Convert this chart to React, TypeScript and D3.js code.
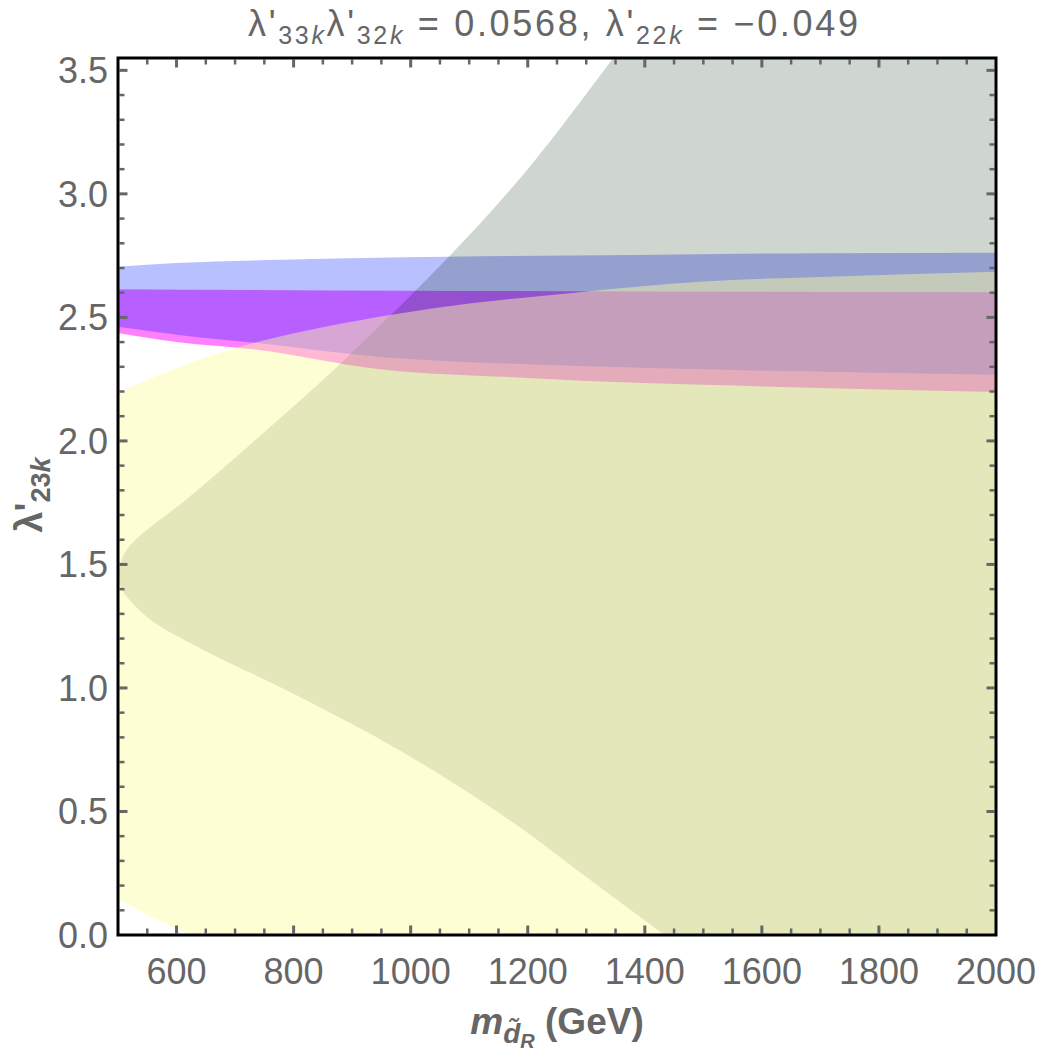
import React from "react";
import * as d3 from "d3";

const xDomain: [number, number] = [500, 2000];
const yDomain: [number, number] = [0, 3.55];
const xTickValues = [600, 800, 1000, 1200, 1400, 1600, 1800, 2000];
const yTickValues = [0, 0.5, 1.0, 1.5, 2.0, 2.5, 3.0, 3.5];
const yTickLabels = ["0.0", "0.5", "1.0", "1.5", "2.0", "2.5", "3.0", "3.5"];

// gray excluded region boundary (top -> bottom), region lies to the right
const grayBoundary: [number, number][] = [
  [1349, 3.56], [1207, 3.12], [1063, 2.74], [892, 2.34], [800, 2.14], [704, 1.94],
  [615, 1.76], [530, 1.6], [510, 1.54], [502, 1.48], [503, 1.42], [515, 1.37],
  [556, 1.275], [646, 1.154], [800, 0.977], [983, 0.745], [1166, 0.47], [1300, 0.235], [1434, 0],
];
// yellow band
const yellowUpper: [number, number][] = [
  [500, 2.195], [600, 2.295], [733, 2.397], [850, 2.46], [978, 2.515], [1100, 2.556],
  [1280, 2.6], [1494, 2.644], [1750, 2.668], [2000, 2.685],
];
const yellowLower: [number, number][] = [[500, 0.145], [560, 0.07], [625, 0], [2000, 0]];
// blue band
const blueTop: [number, number][] = [
  [500, 2.705], [600, 2.72], [780, 2.733], [1063, 2.745], [1383, 2.753], [1700, 2.76], [2000, 2.762],
];
const blueBottom: [number, number][] = [
  [500, 2.462], [600, 2.43], [734, 2.397], [947, 2.34], [1200, 2.31], [1500, 2.29], [2000, 2.268],
];
// magenta band
const magentaTop: [number, number][] = [[500, 2.614], [1000, 2.608], [2000, 2.602]];
const magentaBottom: [number, number][] = [
  [500, 2.437], [600, 2.4], [734, 2.37], [947, 2.29], [1200, 2.255], [1383, 2.235], [1500, 2.227], [2000, 2.198],
];

const left = 118, top = 58, width = 878, height = 877;

export default function App() {
  const x = d3.scaleLinear().domain(xDomain).range([left, left + width]);
  const y = d3.scaleLinear().domain(yDomain).range([top + height, top]);
  const lineX = d3.line<[number, number]>().x(d => x(d[0])).y(d => y(d[1])).curve(d3.curveMonotoneX);
  const lineC = d3.line<[number, number]>().x(d => x(d[0])).y(d => y(d[1])).curve(d3.curveCatmullRom.alpha(0.5));
  const lineL = d3.line<[number, number]>().x(d => x(d[0])).y(d => y(d[1]));

  const band = (topPts: [number, number][], botPts: [number, number][]) => {
    const a = lineX(topPts) as string;
    const b = (lineX([...botPts].reverse() as [number, number][]) as string);
    return a + "L" + b.slice(1) + "Z";
  };
  const grayPath = (lineC(grayBoundary) as string) + `L${x(2000) + 5},${y(0) + 5}L${x(2000) + 5},${y(3.55) - 5}Z`;
  const yellowPath = (lineX(yellowUpper) as string) + "L" + (lineL([...yellowLower].reverse() as [number, number][]) as string).slice(1) + "Z";
  const bluePath = band(blueTop, blueBottom);
  const magentaPath = band(magentaTop, magentaBottom);

  const xMinor = d3.range(550, 2000, 50);
  const yMinor = d3.range(1, 36).map(i => i / 10);
  const tickColor = "#666";
  const textColor = "#666";
  const font = "'Liberation Sans', Arial, sans-serif";
  const ticks: JSX.Element[] = [];
  xMinor.forEach((v, i) => {
    const major = Math.abs(v % 200) < 1e-6;
    const len = major ? 8 : 5;
    const w = major ? 3 : 2.5;
    ticks.push(<line key={"xb" + i} x1={x(v)} x2={x(v)} y1={top + height - 1.5} y2={top + height - 1.5 - len} stroke={tickColor} strokeWidth={w} />);
    ticks.push(<line key={"xt" + i} x1={x(v)} x2={x(v)} y1={top + 1.5} y2={top + 1.5 + len} stroke={tickColor} strokeWidth={w} />);
  });
  yMinor.forEach((v, i) => {
    const major = Math.abs(v * 2 - Math.round(v * 2)) < 1e-6;
    const len = major ? 8 : 5;
    const w = major ? 3 : 2.5;
    ticks.push(<line key={"yl" + i} x1={left + 1.5} x2={left + 1.5 + len} y1={y(v)} y2={y(v)} stroke={tickColor} strokeWidth={w} />);
    ticks.push(<line key={"yr" + i} x1={left + width - 1.5} x2={left + width - 1.5 - len} y1={y(v)} y2={y(v)} stroke={tickColor} strokeWidth={w} />);
  });

  return (
    <svg width={1042} height={1061} style={{ position: "absolute", left: 0, top: 0, background: "#fff" }} fontFamily={font}>
      <defs>
        <clipPath id="plotclip">
          <rect x={left} y={top} width={width} height={height} />
        </clipPath>
      </defs>
      <g clipPath="url(#plotclip)">
        <rect x={left} y={top} width={width} height={height} fill="#fff" />
        <path d={grayPath} fill="#cfd5cf" style={{ mixBlendMode: "multiply" }} />
        <path d={bluePath} fill="#b8c0ff" style={{ mixBlendMode: "multiply" }} />
        <path d={magentaPath} fill="#ff80ff" style={{ mixBlendMode: "multiply" }} />
        <path d={yellowPath} fill="rgb(252,252,160)" fillOpacity={0.45} />
      </g>
      {ticks}
      <rect x={left} y={top} width={width} height={height} fill="none" stroke="#000" strokeWidth={3} />
      {xTickValues.map(v => (
        <text key={"xl" + v} x={x(v)} y={984} textAnchor="middle" fontSize={36} fill={textColor}>{v}</text>
      ))}
      {yTickValues.map((v, i) => (
        <text key={"yl" + v} x={108} y={y(v) + 13} textAnchor="end" fontSize={36} fill={textColor}>{yTickLabels[i]}</text>
      ))}
      <text x={248} y={36} fontSize={36} fill={textColor} textLength={610} lengthAdjust="spacing">
        <tspan>λ'</tspan>
        <tspan fontSize={25} dy={8}>33</tspan>
        <tspan fontSize={25} fontStyle="italic">k</tspan>
        <tspan dy={-8}>λ'</tspan>
        <tspan fontSize={25} dy={8}>32</tspan>
        <tspan fontSize={25} fontStyle="italic">k</tspan>
        <tspan dy={-8}> = 0.0568, λ'</tspan>
        <tspan fontSize={25} dy={8}>22</tspan>
        <tspan fontSize={25} fontStyle="italic">k</tspan>
        <tspan dy={-8}> = −0.049</tspan>
      </text>
      <text transform="translate(42,495) rotate(-90)" textAnchor="middle" fontSize={38} fontWeight="bold" fill={textColor}>
        <tspan>λ'</tspan>
        <tspan fontSize={27} dy={8}>23</tspan>
        <tspan fontSize={27} fontStyle="italic">k</tspan>
      </text>
      <text x={557} y={1034} textAnchor="middle" fontSize={37} fontWeight="bold" fill={textColor}>
        <tspan fontStyle="italic">m</tspan>
        <tspan fontSize={28} fontStyle="italic" dy={9}>{"d\u0303"}</tspan>
        <tspan fontSize={20} fontStyle="italic" dy={5}>R</tspan>
        <tspan dy={-14}>{"  (GeV)"}</tspan>
      </text>
    </svg>
  );
}
